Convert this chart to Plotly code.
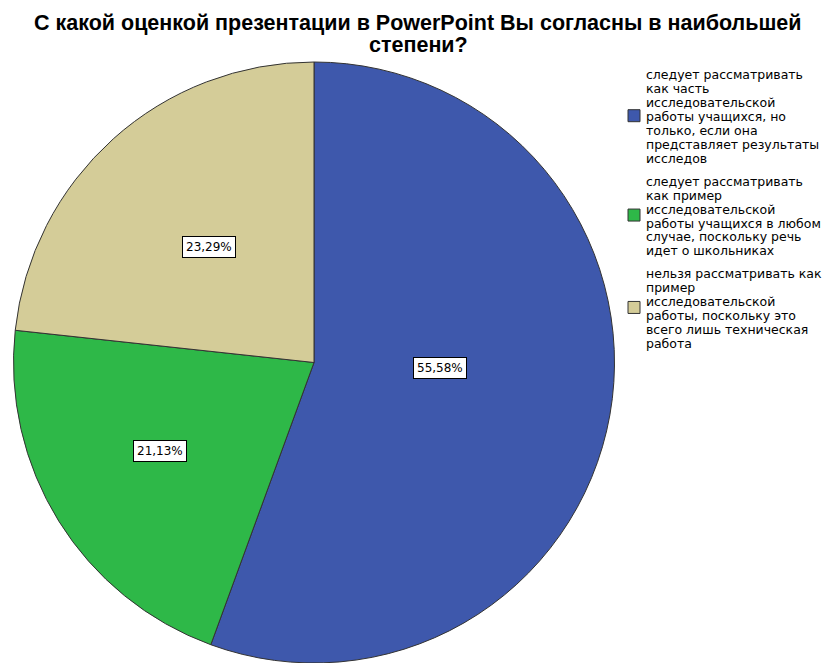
import math
import plotly.graph_objects as go

# ---------------- data ----------------
categories = [
    ["следует рассматривать", "как часть", "исследовательской", "работы учащихся, но",
     "только, если она", "представляет результаты", "исследов"],
    ["следует рассматривать", "как пример", "исследовательской", "работы учащихся в любом",
     "случае, поскольку речь", "идет о школьниках"],
    ["нельзя рассматривать как", "пример", "исследовательской", "работы, поскольку это",
     "всего лишь техническая", "работа"],
]
values = [55.58, 21.13, 23.29]
value_labels = ["55,58%", "21,13%", "23,29%"]
title_lines = ["С какой оценкой презентации в PowerPoint Вы согласны в наибольшей", "степени?"]
colors = ["#3E58AC", "#2EB848", "#D4CC98"]

# ---------------- layout geometry (page pixels; page body has an 8px margin) ----------------
OFF = 8
W, H = 837 - OFF, 663 - OFF


def px(x):
    return (x - OFF) / W


def py(y):
    return 1 - (y - OFF) / H


cx, cy, R = 314, 363, 301  # page pixel centre / radius of the pie

fig = go.Figure()
fig.add_trace(go.Pie(
    labels=[" ".join(c) for c in categories],
    values=values,
    sort=False,
    direction="clockwise",
    rotation=0,
    textinfo="none",
    hoverinfo="label+percent",
    showlegend=False,
    marker=dict(colors=colors, line=dict(color="#333333", width=1)),
    domain=dict(x=[px(cx - R), px(cx + R)], y=[max(0.0, py(cy + R)), py(cy - R)]),
))

annotations = []
shapes = []

# slice value labels, placed on each slice's mid-angle (computed from the data)
label_r = [0.42, 0.59, 0.52]
label_dang = [-8, 2, 0]
total = sum(values)
start = 0.0
for i, v in enumerate(values):
    ang = start + v / total * 360 / 2 + label_dang[i]
    start += v / total * 360
    a = math.radians(ang)
    lx = cx + label_r[i] * R * math.sin(a)
    ly = cy - label_r[i] * R * math.cos(a)
    annotations.append(dict(
        x=px(lx), y=py(ly), xref="paper", yref="paper",
        xanchor="center", yanchor="middle",
        text=value_labels[i], showarrow=False,
        font=dict(family="DejaVu Sans", size=12, color="black"),
        bgcolor="white", bordercolor="black", borderwidth=1, borderpad=3,
    ))

# title (two lines)
title_y = [23, 45]
for t, ty in zip(title_lines, title_y):
    annotations.append(dict(
        x=px(418), y=py(ty), xref="paper", yref="paper",
        xanchor="center", yanchor="middle", showarrow=False,
        text="<b>" + t + "</b>",
        font=dict(family="Liberation Sans", size=21.5, color="black"),
    ))

# legend (drawn as text lines + swatches for tight SPSS-style line spacing)
LEG_TEXT_X = 644
LEG_SW_X = 634
LINE_H = 13.9
ENTRY_GAP = 9
y = 75.0
for i, lines in enumerate(categories):
    first = y
    for ln in lines:
        annotations.append(dict(
            x=px(LEG_TEXT_X), y=py(y), xref="paper", yref="paper",
            xanchor="left", yanchor="middle", showarrow=False,
            text=ln, font=dict(family="DejaVu Sans", size=12.5, color="black"),
        ))
        y += LINE_H
    last = y - LINE_H
    mid = (first + last) / 2 - 1
    shapes.append(dict(
        type="rect", xref="paper", yref="paper",
        x0=px(LEG_SW_X - 6), x1=px(LEG_SW_X + 6), y0=py(mid + 6), y1=py(mid - 6),
        fillcolor=colors[i], line=dict(color="#333333", width=1),
    ))
    y += ENTRY_GAP

fig.update_layout(
    width=W, height=H,
    margin=dict(l=0, r=0, t=0, b=0),
    paper_bgcolor="white",
    showlegend=False,
    annotations=annotations,
    shapes=shapes,
)

fig.write_html("out.html")
